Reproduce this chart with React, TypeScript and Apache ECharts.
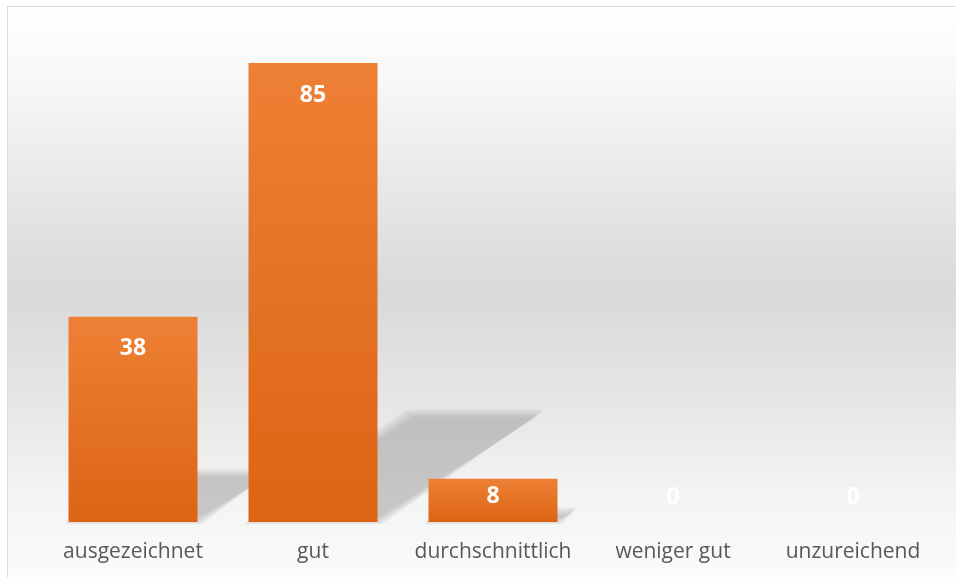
import React, { useEffect, useRef } from "react";
import * as echarts from "echarts";

const categories = ["ausgezeichnet", "gut", "durchschnittlich", "weniger gut", "unzureichend"];
const values = [38, 85, 8, 0, 0];

export default function App() {
  const ref = useRef<HTMLDivElement>(null);

  useEffect(() => {
    const chart = echarts.init(ref.current!, null, { renderer: "svg" });

    const barGrad = new echarts.graphic.LinearGradient(0, 0, 0, 1, [
      { offset: 0, color: "#ee8035" },
      { offset: 1, color: "#dc6414" },
    ]);
    const bgGrad = new echarts.graphic.LinearGradient(0, 0, 0, 1, [
      { offset: 0, color: "#ffffff" },
      { offset: 0.12, color: "#f8f8f8" },
      { offset: 0.5, color: "#d9d9d9" },
      { offset: 0.72, color: "#e8e8e8" },
      { offset: 0.86, color: "#f4f4f4" },
      { offset: 1, color: "#fbfbfb" },
    ]);

    const labelFor = (v: number) => {
      if (v === 0) return { position: "top", distance: 16, color: "#ffffff" };
      if (v < 15) return { position: "insideTop", distance: 4 };
      return { position: "insideTop", distance: 18 };
    };

    const blurSteps = [5, 4, 3, 2, 1, 0, -1, -2, -3, -4];

    chart.setOption({
      animation: false,
      graphic: [
        {
          type: "rect",
          x: 7.5,
          y: 6.5,
          shape: { width: 980, height: 571 },
          style: { fill: bgGrad, stroke: "#d9d9d9", lineWidth: 1 },
          z: -10,
          silent: true,
        },
      ],
      grid: { left: 43, right: 13, top: 36, bottom: 55, outerBoundsMode: "none" },
      xAxis: {
        type: "category",
        data: categories,
        axisLine: { show: false },
        axisTick: { show: false },
        axisLabel: {
          interval: 0,
          color: "#595959",
          fontSize: 21,
          fontFamily: "Open Sans",
          margin: 17,
        },
      },
      yAxis: { type: "value", min: 0, max: 90, show: false, splitLine: { show: false } },
      series: [
        {
          type: "custom",
          z: 1,
          silent: true,
          data: values.map((v, i) => [i, v]),
          renderItem: (params: any, api: any) => {
            const idx = api.value(0);
            const v = api.value(1);
            const top = api.coord([idx, v]);
            const base = api.coord([idx, 0]);
            const half = api.size([1, 0])[0] * 0.3583;
            const h = base[1] - top[1];
            if (h <= 0) return null;
            const dy = h * 0.236;
            const dx = h * 0.354;
            const x0 = base[0] - half;
            const x1 = base[0] + half;
            const y = base[1];
            const children = blurSteps.map((e) => {
              const ee = Math.max(e, -dy / 2 + 0.5);
              return {
                type: "polygon",
                shape: {
                  points: [
                    [x0 - ee, y + ee * 0.5],
                    [x1 + ee, y + ee * 0.5],
                    [x1 + dx + ee, y - dy - ee],
                    [x0 + dx - ee, y - dy - ee],
                  ],
                },
                style: { fill: "rgba(140,140,140,0.055)" },
              };
            });
            return { type: "group", children };
          },
        },
        {
          type: "bar",
          z: 2,
          barWidth: 129,
          itemStyle: { color: barGrad },
          label: {
            show: true,
            color: "#ffffff",
            fontSize: 23,
            fontWeight: "bold",
            fontFamily: "Open Sans",
          },
          data: values.map((v) => ({ value: v, label: labelFor(v) })),
        },
      ],
    });

    return () => chart.dispose();
  }, []);

  return (
    <div
      ref={ref}
      style={{ position: "fixed", left: 0, top: 0, width: 956, height: 577 }}
    />
  );
}
